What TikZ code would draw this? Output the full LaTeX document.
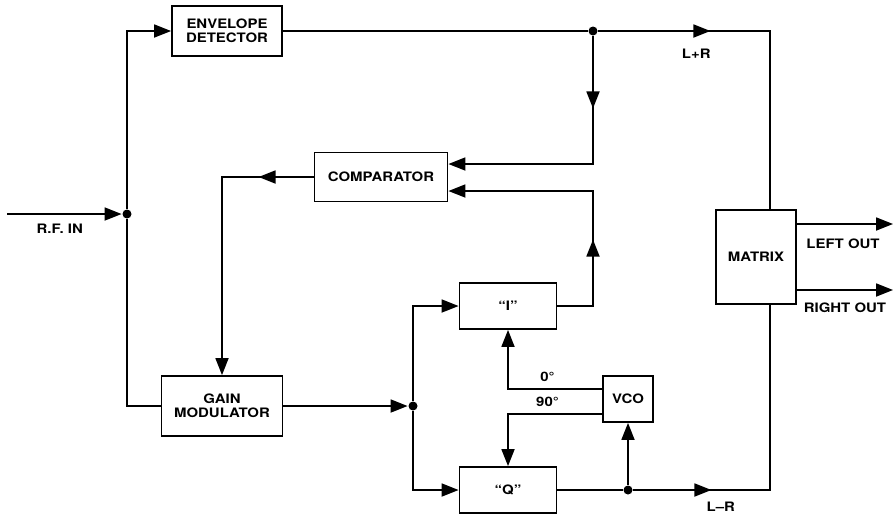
\documentclass[tikz,border=0pt]{standalone}
\usepackage{fontspec}
\setmainfont{TeX Gyre Heros}[FakeStretch=1.15]
\usetikzlibrary{arrows.meta,calc,decorations.markings}

\begin{document}
\begin{tikzpicture}[x=1pt,y=-1pt,line width=1.8pt,font=\bfseries\fontsize{13}{13.5}\selectfont,
  blk/.style={draw,align=center,inner sep=0pt},
  lbl/.style={inner sep=0pt},
  tip/.style={-{Triangle[length=17pt,width=13pt]}},
  midtip/.style={postaction={decorate},decoration={markings,mark=at position #1 with {\arrow{Triangle[length=17pt,width=13pt]}}}},
  dot/.style={circle,fill,inner sep=0pt,minimum size=9pt}]
\useasboundingbox (0,0) rectangle (895,517);
\node[blk,minimum width=110,minimum height=50] (env) at (227,31) {ENVELOPE\\DETECTOR};
\node[blk,minimum width=133,minimum height=49] (comp) at (381,177) {COMPARATOR};
\node[blk,minimum width=121,minimum height=60] (gain) at (222,406) {GAIN\\MODULATOR};
\node[blk,minimum width=97,minimum height=46] (iblk) at (508,306) {``I''};
\node[blk,minimum width=97,minimum height=46] (qblk) at (508,490) {``Q''};
\node[blk,minimum width=50,minimum height=46] (vco) at (628,399) {VCO};
\node[blk,minimum width=80,minimum height=94] (mat) at (756,257) {MATRIX};

\node[dot] (jin) at (127,214) {};
\node[dot] (jtop) at (593,31) {};
\node[dot] (jmid) at (413,406) {};
\node[dot] (jlr) at (vco.south |- qblk.east) {};
\coordinate (rfin) at (7,214);
\coordinate (lpr) at (770,31);
\coordinate (lmr) at (770,490);
\coordinate (iup) at (jtop |- iblk.east);
\coordinate (lout) at (893,224);
\coordinate (rout) at (893,290);

\draw[tip] (rfin) -- (jin) node[lbl,pos=0.46,below=9pt] {R.F.\ IN};
\draw[tip] (jin) |- (env.west);
\draw (jin) |- (gain.west);
\draw (env.east) -- (jtop);
\draw[midtip=112pt] (jtop) -- (lpr) node[lbl,pos=0.57,below=17pt] {L+R} -- (mat.north -| lpr);
\draw[tip,midtip=72pt] (jtop) |- ($(comp.east)+(0,-13)$);
\draw[tip,midtip=102pt] (iblk.east) -- (iup) |- ($(comp.east)+(0,14)$);
\draw[tip,midtip=55pt] (comp.west) -| (gain.north);
\draw[tip] (gain.east) -- (jmid);
\draw[tip] (jmid) |- (iblk.west);
\draw[tip] (jmid) |- (qblk.west);
\draw[tip] ($(vco.west)+(0,-10)$) -| (iblk.south) node[lbl,pos=0.29,above=6pt] {0°};
\draw[tip] ($(vco.west)+(0,15)$) -| (qblk.north) node[lbl,pos=0.29,above=6pt] {90°};
\draw (qblk.east) -- (jlr);
\draw[tip] (jlr) -- (vco.south);
\draw[midtip=78pt] (jlr) -- (lmr) node[lbl,pos=0.64,below=11pt] {L--R} -- (mat.south -| lmr);
\draw[tip] (mat.east |- lout) -- (lout) node[lbl,pos=0.48,below=14pt] {LEFT OUT};
\draw[tip] (mat.east |- rout) -- (rout) node[lbl,pos=0.5,below=12pt] {RIGHT OUT};
\end{tikzpicture}
\end{document}
